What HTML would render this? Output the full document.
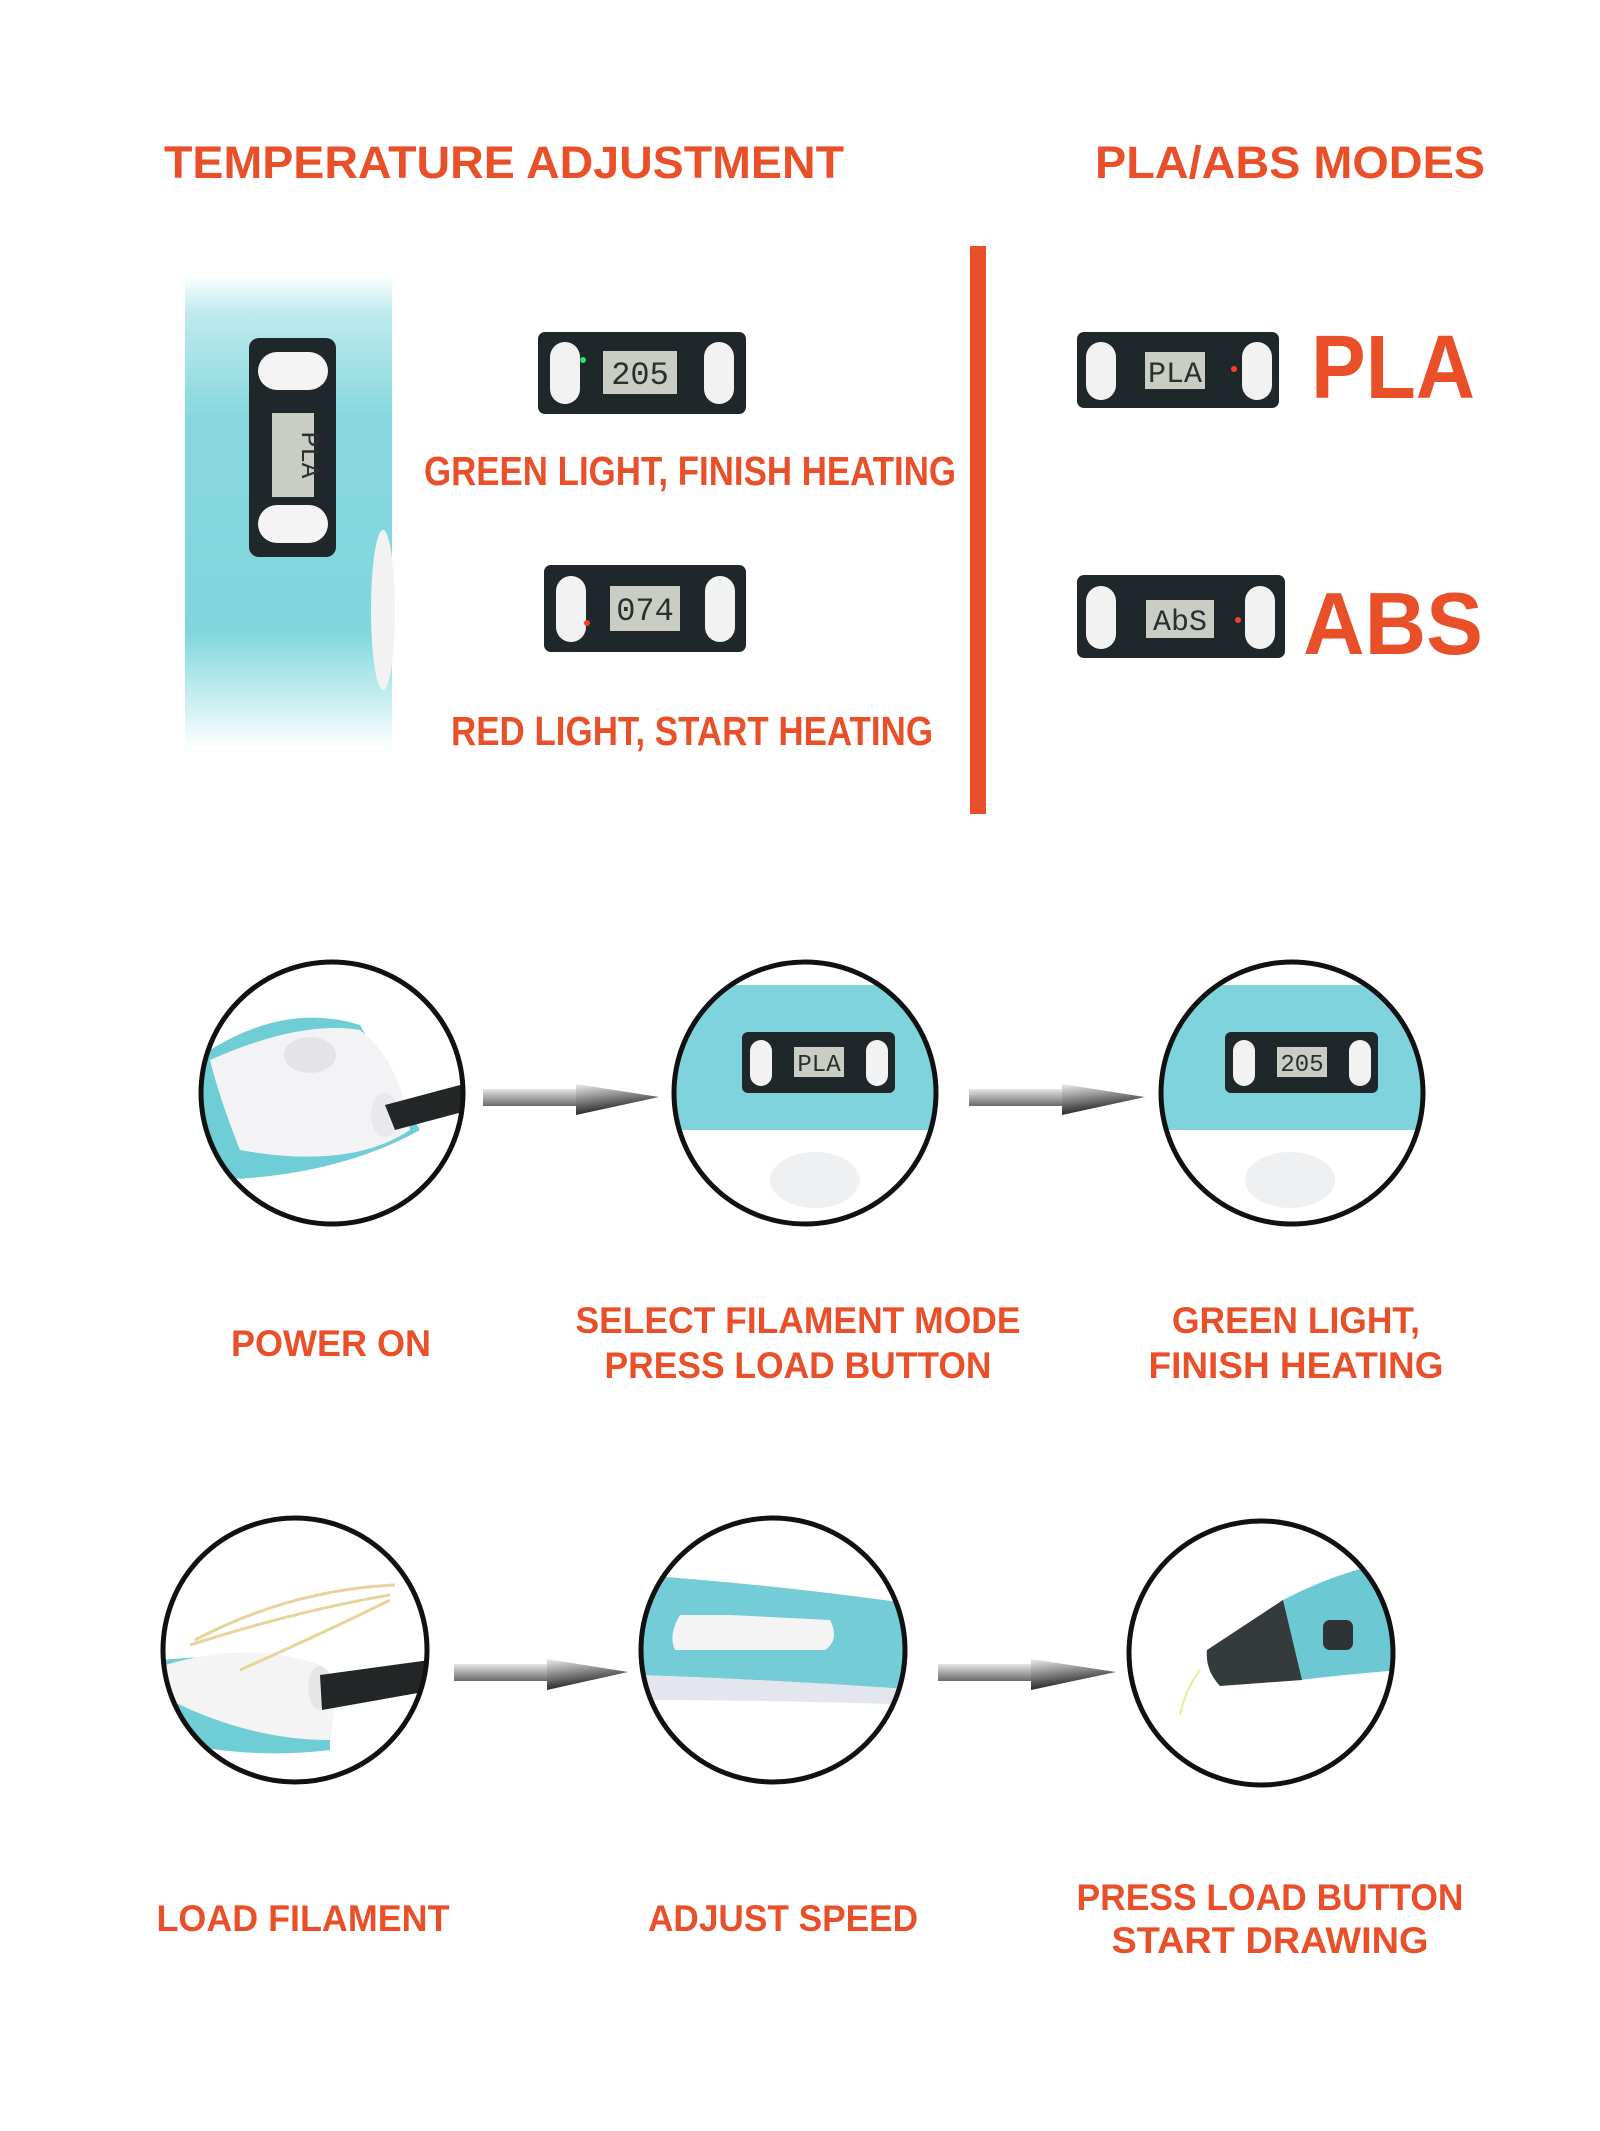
<!DOCTYPE html>
<html><head><meta charset="utf-8"><style>
html,body{margin:0;padding:0;background:#fff;}
svg{display:block;}
text{font-family:"Liberation Sans",sans-serif;font-weight:bold;fill:#e9502a;}
.lcdt{font-family:"Liberation Mono",monospace;font-weight:normal;fill:#2a2f2f;}
</style></head><body>
<svg width="1600" height="2131" viewBox="0 0 1600 2131" xmlns="http://www.w3.org/2000/svg">
<defs>
<linearGradient id="ag" x1="0" y1="0" x2="0" y2="1"><stop offset="0" stop-color="#e6e6e6"/><stop offset="1" stop-color="#6a6a6a"/></linearGradient>
<linearGradient id="ah" x1="0" y1="0" x2="0.3" y2="1"><stop offset="0" stop-color="#eeeeee"/><stop offset="1" stop-color="#1a1a1a"/></linearGradient>
<linearGradient id="pen" x1="0" y1="0" x2="0" y2="1"><stop offset="0" stop-color="#fff"/><stop offset="0.08" stop-color="#bfeaee"/><stop offset="0.3" stop-color="#86d8de"/><stop offset="0.75" stop-color="#7fd7dd"/><stop offset="1" stop-color="#fff"/></linearGradient>
<clipPath id="c1"><circle cx="332" cy="1093" r="131"/></clipPath>
<clipPath id="c2"><circle cx="805" cy="1093" r="131"/></clipPath>
<clipPath id="c3"><circle cx="1292" cy="1093" r="131"/></clipPath>
<clipPath id="d1"><circle cx="295" cy="1650" r="132"/></clipPath>
<clipPath id="d2"><circle cx="773" cy="1650" r="132"/></clipPath>
<clipPath id="d3"><circle cx="1261" cy="1653" r="132"/></clipPath>
</defs>

<text x="164" y="178" font-size="45" textLength="680" lengthAdjust="spacingAndGlyphs">TEMPERATURE ADJUSTMENT</text>
<text x="1095" y="178" font-size="45" textLength="390" lengthAdjust="spacingAndGlyphs">PLA/ABS MODES</text>

<rect x="970" y="246" width="16" height="568" fill="#e9502a"/>

<!-- pen -->
<rect x="185" y="275" width="207" height="475" fill="url(#pen)"/>
<rect x="249" y="338" width="87" height="219" rx="10" fill="#1f272a"/>
<rect x="258" y="352" width="70" height="38" rx="19" fill="#f4f4f4"/>
<rect x="258" y="505" width="70" height="38" rx="19" fill="#f4f4f4"/>
<rect x="272" y="413" width="42" height="84" fill="#c9cdc4"/>
<text class="lcdt" x="0" y="0" font-size="26" transform="translate(302,455) rotate(90)" text-anchor="middle">PLA</text>
<ellipse cx="383" cy="610" rx="12" ry="80" fill="#f2f2f2"/>

<!-- LCDs -->
<g>
<rect x="538" y="332" width="208" height="82" rx="7" fill="#1f272a"/>
<rect x="550" y="342" width="30" height="62" rx="15" fill="#f2f2f2"/><rect x="704" y="342" width="30" height="62" rx="15" fill="#f2f2f2"/>
<rect x="603" y="351" width="74" height="43" fill="#c9cdc4"/><text class="lcdt" x="640" y="384" font-size="32" text-anchor="middle">205</text>
<circle cx="583" cy="360" r="3" fill="#2ee36a"/>
</g>
<text x="424" y="485" font-size="41" textLength="532" lengthAdjust="spacingAndGlyphs">GREEN LIGHT, FINISH HEATING</text>
<g>
<rect x="544" y="565" width="202" height="87" rx="7" fill="#1f272a"/>
<rect x="556" y="576" width="30" height="66" rx="15" fill="#f2f2f2"/><rect x="705" y="576" width="30" height="66" rx="15" fill="#f2f2f2"/>
<rect x="610" y="586" width="70" height="45" fill="#c9cdc4"/><text class="lcdt" x="645" y="620" font-size="32" text-anchor="middle">074</text>
<circle cx="587" cy="623" r="3" fill="#ff3b2a"/>
</g>
<text x="451" y="745" font-size="41" textLength="482" lengthAdjust="spacingAndGlyphs">RED LIGHT, START HEATING</text>

<g>
<rect x="1077" y="332" width="202" height="76" rx="7" fill="#1f272a"/>
<rect x="1086" y="342" width="30" height="58" rx="15" fill="#f2f2f2"/><rect x="1242" y="342" width="30" height="58" rx="15" fill="#f2f2f2"/>
<rect x="1145" y="352" width="60" height="37" fill="#c9cdc4"/><text class="lcdt" x="1175" y="382" font-size="30" text-anchor="middle">PLA</text>
<circle cx="1234" cy="369" r="3" fill="#ff3b2a"/>
</g>
<text x="1311" y="398" font-size="90" textLength="164" lengthAdjust="spacingAndGlyphs">PLA</text>
<g>
<rect x="1077" y="575" width="208" height="83" rx="7" fill="#1f272a"/>
<rect x="1086" y="586" width="30" height="63" rx="15" fill="#f2f2f2"/><rect x="1245" y="586" width="30" height="63" rx="15" fill="#f2f2f2"/>
<rect x="1146" y="600" width="68" height="38" fill="#c9cdc4"/><text class="lcdt" x="1180" y="630" font-size="30" text-anchor="middle">AbS</text>
<circle cx="1238" cy="620" r="3" fill="#ff3b2a"/>
</g>
<text x="1303" y="654" font-size="88" textLength="180" lengthAdjust="spacingAndGlyphs">ABS</text>

<!-- Row 1 circles -->
<g clip-path="url(#c1)">
<path d="M195 1060 Q280 1000 360 1025 L420 1130 Q330 1180 200 1180 Z" fill="#6fcdd5"/>
<path d="M210 1060 Q300 1020 360 1030 Q400 1060 410 1130 Q350 1170 240 1150 Q220 1100 210 1060 Z" fill="#f3f3f5"/>
<ellipse cx="310" cy="1055" rx="26" ry="18" fill="#e4e4e8"/>
<ellipse cx="385" cy="1115" rx="14" ry="22" fill="#e9e9ec"/>
<path d="M385 1105 L460 1085 L470 1110 L395 1130 Z" fill="#232626"/>
</g>
<circle cx="332" cy="1093" r="131" fill="none" stroke="#111" stroke-width="5"/>

<g clip-path="url(#c2)">
<rect x="660" y="985" width="290" height="145" fill="#7fd3dd"/>
<rect x="742" y="1032" width="153" height="61" rx="6" fill="#1f272a"/>
<rect x="750" y="1040" width="22" height="46" rx="11" fill="#f2f2f2"/><rect x="866" y="1040" width="22" height="46" rx="11" fill="#f2f2f2"/>
<rect x="794" y="1047" width="50" height="30" fill="#c9cdc4"/><text class="lcdt" x="819" y="1071" font-size="24" text-anchor="middle">PLA</text>
<ellipse cx="815" cy="1180" rx="45" ry="28" fill="#eef0f2"/>
</g>
<circle cx="805" cy="1093" r="131" fill="none" stroke="#111" stroke-width="5"/>

<g clip-path="url(#c3)">
<rect x="1150" y="985" width="290" height="145" fill="#7fd3dd"/>
<rect x="1225" y="1032" width="153" height="61" rx="6" fill="#1f272a"/>
<rect x="1233" y="1040" width="22" height="46" rx="11" fill="#f2f2f2"/><rect x="1349" y="1040" width="22" height="46" rx="11" fill="#f2f2f2"/>
<rect x="1277" y="1047" width="50" height="30" fill="#c9cdc4"/><text class="lcdt" x="1302" y="1071" font-size="24" text-anchor="middle">205</text>
<ellipse cx="1290" cy="1180" rx="45" ry="28" fill="#eef0f2"/>
</g>
<circle cx="1292" cy="1093" r="131" fill="none" stroke="#111" stroke-width="5"/>

<!-- arrows row1 -->
<rect x="483" y="1089" width="95" height="17" fill="url(#ag)"/><path d="M576 1084 L659 1097 L576 1115 Z" fill="url(#ah)"/>
<rect x="969" y="1089" width="95" height="17" fill="url(#ag)"/><path d="M1062 1084 L1145 1097 L1062 1115 Z" fill="url(#ah)"/>

<text x="331" y="1356" font-size="37" text-anchor="middle" textLength="200" lengthAdjust="spacingAndGlyphs">POWER ON</text>
<text x="798" y="1333" font-size="37" text-anchor="middle" textLength="445" lengthAdjust="spacingAndGlyphs">SELECT FILAMENT MODE</text>
<text x="798" y="1378" font-size="37" text-anchor="middle" textLength="387" lengthAdjust="spacingAndGlyphs">PRESS LOAD BUTTON</text>
<text x="1296" y="1333" font-size="37" text-anchor="middle" textLength="248" lengthAdjust="spacingAndGlyphs">GREEN LIGHT,</text>
<text x="1296" y="1378" font-size="37" text-anchor="middle" textLength="295" lengthAdjust="spacingAndGlyphs">FINISH HEATING</text>

<!-- Row 2 circles -->
<g clip-path="url(#d1)">
<path d="M160 1660 Q260 1650 330 1675 L330 1750 Q250 1760 160 1740 Z" fill="#6fcdd5"/>
<path d="M165 1665 Q250 1640 320 1665 Q340 1700 330 1740 Q250 1740 170 1700 Z" fill="#f4f4f4"/>
<path d="M195 1640 Q290 1590 395 1585 M190 1645 Q300 1610 390 1595 M240 1670 Q330 1630 390 1600" stroke="#e8d49a" stroke-width="3" fill="none"/>
<ellipse cx="320" cy="1688" rx="12" ry="22" fill="#e6e6e8"/>
<path d="M320 1675 L430 1660 L435 1690 L322 1710 Z" fill="#232626"/>
</g>
<circle cx="295" cy="1650" r="132" fill="none" stroke="#111" stroke-width="5"/>

<g clip-path="url(#d2)">
<path d="M640 1575 Q780 1585 920 1605 L920 1690 Q780 1680 640 1675 Z" fill="#74ccd7"/>
<path d="M640 1675 Q780 1680 920 1690 L920 1705 Q780 1700 640 1700 Z" fill="#e4e6ee"/>
<path d="M680 1615 L730 1615 L830 1620 Q840 1640 825 1650 L675 1650 Q668 1635 680 1615 Z" fill="#f4f4f4"/>
</g>
<circle cx="773" cy="1650" r="132" fill="none" stroke="#111" stroke-width="5"/>

<g clip-path="url(#d3)">
<path d="M1283 1600 Q1340 1570 1400 1560 L1400 1670 Q1340 1675 1300 1680 Z" fill="#6cc9d3"/>
<path d="M1207 1650 L1283 1600 L1302 1680 L1220 1686 Q1205 1670 1207 1650 Z" fill="#353a3d"/>
<rect x="1323" y="1620" width="30" height="30" rx="7" fill="#2e3335"/>
<path d="M1200 1670 Q1185 1690 1180 1715" stroke="#e6ee9a" stroke-width="2" fill="none"/>
</g>
<circle cx="1261" cy="1653" r="132" fill="none" stroke="#111" stroke-width="5"/>

<rect x="454" y="1664" width="95" height="17" fill="url(#ag)"/><path d="M547 1659 L628 1672 L547 1690 Z" fill="url(#ah)"/>
<rect x="938" y="1664" width="95" height="17" fill="url(#ag)"/><path d="M1031 1659 L1116 1672 L1031 1690 Z" fill="url(#ah)"/>

<text x="303" y="1931" font-size="37" text-anchor="middle" textLength="293" lengthAdjust="spacingAndGlyphs">LOAD FILAMENT</text>
<text x="783" y="1931" font-size="37" text-anchor="middle" textLength="270" lengthAdjust="spacingAndGlyphs">ADJUST SPEED</text>
<text x="1270" y="1910" font-size="37" text-anchor="middle" textLength="387" lengthAdjust="spacingAndGlyphs">PRESS LOAD BUTTON</text>
<text x="1270" y="1953" font-size="37" text-anchor="middle" textLength="317" lengthAdjust="spacingAndGlyphs">START DRAWING</text>
</svg>
</body></html>
